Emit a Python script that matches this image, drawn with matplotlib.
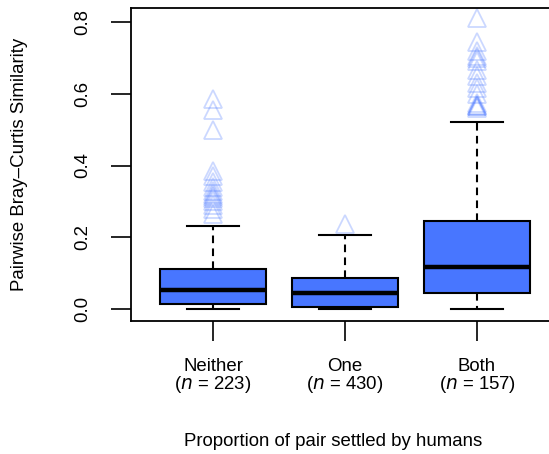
import matplotlib
matplotlib.use("Agg")
import matplotlib.pyplot as plt

plt.rcParams['font.family'] = ['Liberation Sans', 'DejaVu Sans']
plt.rcParams['lines.scale_dashes'] = False

categories = ["Neither", "One", "Both"]
n_values = [223, 430, 157]
q1 = [0.013, 0.005, 0.044]
medians = [0.053, 0.046, 0.116]
q3 = [0.111, 0.087, 0.246]
whisker_low = [0.0, 0.0, 0.0]
whisker_high = [0.232, 0.206, 0.520]
outliers_neither = [0.585, 0.555, 0.50, 0.385, 0.37, 0.355, 0.34, 0.33, 0.32,
                    0.315, 0.31, 0.30, 0.29, 0.28, 0.265]
outliers_one = [0.237]
outliers_both = [0.81, 0.745, 0.72, 0.705, 0.70, 0.69, 0.665, 0.65, 0.63, 0.615,
                 0.60, 0.575, 0.57, 0.565, 0.565, 0.56]
yticks = [0.0, 0.2, 0.4, 0.6, 0.8]

fill = '#4876FF'
fs = 13.4

fig = plt.figure(figsize=(5.49, 4.54), dpi=100)
ax = fig.add_axes([131/549, 133/454, 428/549, 313/454])

fliers = [outliers_neither, outliers_one, outliers_both]
stats = []
for i, c in enumerate(categories):
    stats.append(dict(label=c, q1=q1[i], med=medians[i], q3=q3[i],
                      whislo=whisker_low[i], whishi=whisker_high[i], fliers=fliers[i]))

ax.bxp(stats, positions=[1, 2, 3], widths=0.8, patch_artist=True,
       boxprops=dict(facecolor=fill, edgecolor='black', linewidth=1.5),
       medianprops=dict(color='black', linewidth=3.2, solid_capstyle='butt'),
       whiskerprops=dict(color='black', linewidth=1.5, linestyle=(0, (5.5, 3.8))),
       capprops=dict(color='black', linewidth=1.5),
       capwidths=0.4,
       flierprops=dict(marker='^', markersize=13, markerfacecolor='none',
                       markeredgecolor=(0.28, 0.46, 1.0, 0.28), markeredgewidth=1.3,
                       linestyle='none'))

ax.set_xlim(0.379, 3.621)
ax.set_ylim(-0.0334, 0.839)
ax.set_yticks(yticks)
ax.set_yticklabels([f"{v:.1f}" for v in yticks], rotation=90, va='center', fontsize=fs)
ax.set_xticks([1, 2, 3])
ax.set_xticklabels([f"{c}\n($n$ = {n})" for c, n in zip(categories, n_values)],
                   fontsize=fs, linespacing=0.95)
ax.tick_params(axis='both', length=14.5, width=1.2, color='black')
ax.tick_params(axis='y', pad=14)
ax.tick_params(axis='x', pad=12)
for s in ax.spines.values():
    s.set_linewidth(1.3)

ax.set_ylabel("Pairwise Bray\u2013Curtis Similarity", fontsize=fs)
ax.set_xlabel("Proportion of pair settled by humans", fontsize=fs)
ax.yaxis.set_label_coords(-(131 - 20) / 428, 0.5)
ax.xaxis.set_label_coords((333 - 131) / 428, -(442 - 321) / 313)
ax.xaxis.label.set_va('center')
ax.yaxis.label.set_va('center')

fig.savefig("out.png", dpi=100)
